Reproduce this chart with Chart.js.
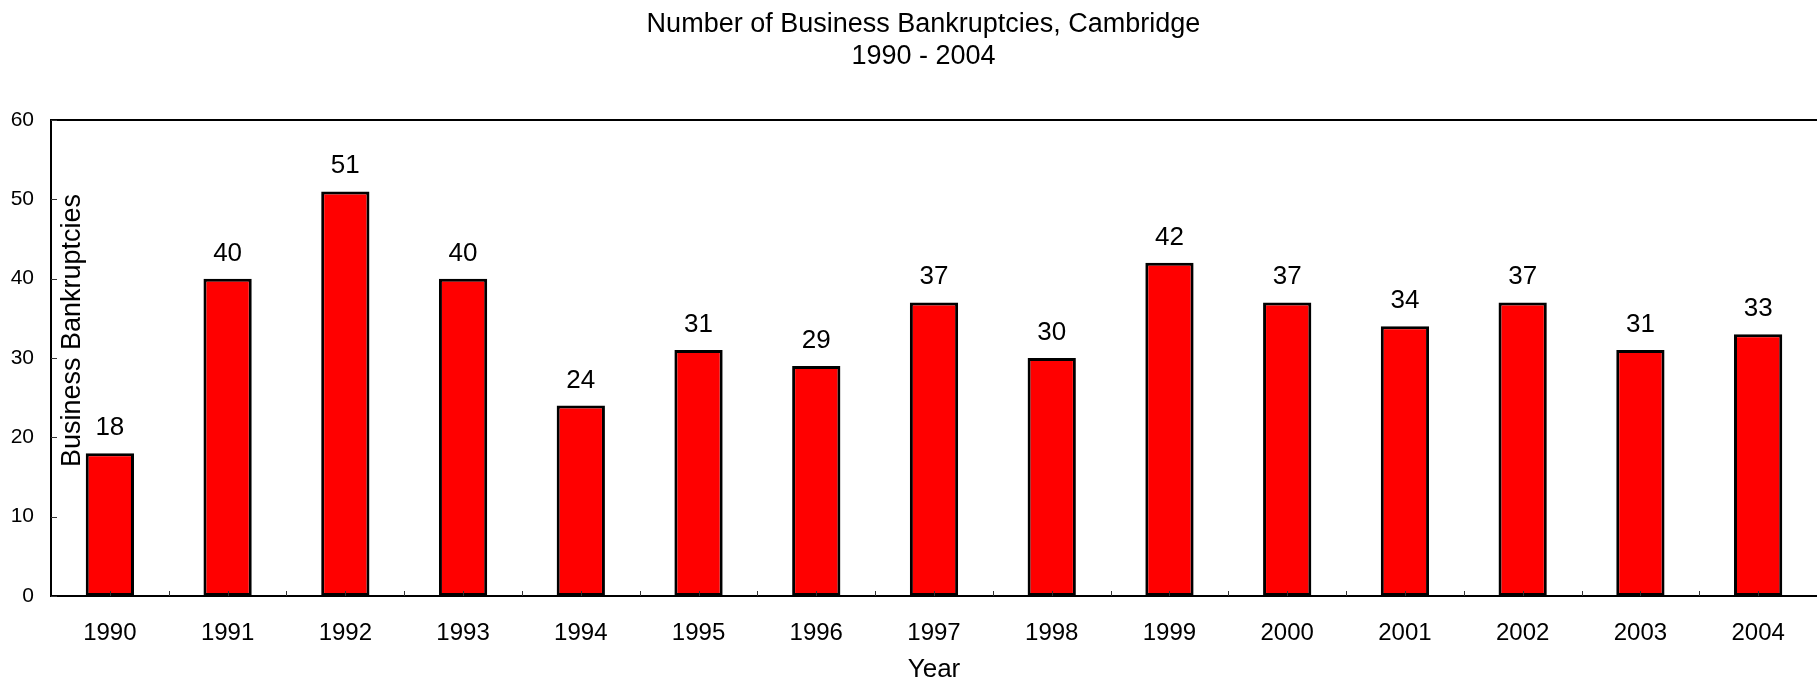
<!DOCTYPE html>
<html>
<head>
<meta charset="utf-8">
<script src="https://cdn.jsdelivr.net/npm/chart.js@4.4.1/dist/chart.umd.min.js"></script>
<style>
  html, body { margin: 0; padding: 0; background: #fff; }
  #wrap { width: 1817px; height: 683px; }
</style>
</head>
<body>
<div id="wrap"><canvas id="bankChart"></canvas></div>
<script>
let years = ["1990", "1991", "1992", "1993", "1994", "1995", "1996", "1997", "1998", "1999", "2000", "2001", "2002", "2003", "2004"];
let bankruptcies = [18, 40, 51, 40, 24, 31, 29, 37, 30, 42, 37, 34, 37, 31, 33];
let titleLines = ["Number of Business Bankruptcies, Cambridge", "1990 - 2004"];
let yTitle = "Business Bankruptcies";
let xTitle = "Year";

const FONT = "Arial, 'Liberation Sans', sans-serif";

// frame, inward tick marks, rotated y title and value labels
const extras = {
    id: "extras",
    afterLayout(chart) {
        // title in the original sits a bit right of the canvas centre
        if (chart.titleBlock) chart.titleBlock.left += 30;
    },
    afterDatasetsDraw(chart) {
        const ctx = chart.ctx;
        const area = chart.chartArea;
        const xs = chart.scales.x;
        const ys = chart.scales.y;
        ctx.save();

        // top border
        ctx.strokeStyle = "#000";
        ctx.lineWidth = 2;
        ctx.beginPath();
        ctx.moveTo(area.left, area.top);
        ctx.lineTo(area.right, area.top);
        ctx.stroke();

        // y ticks pointing in
        ctx.strokeStyle = "#333";
        ctx.lineWidth = 1;
        ys.ticks.forEach(t => {
            const y = Math.round(ys.getPixelForValue(t.value)) + 0.5;
            ctx.beginPath();
            ctx.moveTo(area.left, y);
            ctx.lineTo(area.left + 6, y);
            ctx.stroke();
        });

        // x ticks at centers and boundaries
        const half = (area.right - area.left) / years.length / 2;
        years.forEach((yr, i) => {
            const cx = xs.getPixelForValue(i);
            [cx, cx + half].forEach(px => {
                const x = Math.round(px) + 0.5;
                ctx.beginPath();
                ctx.moveTo(x, area.bottom);
                ctx.lineTo(x, area.bottom - 5);
                ctx.stroke();
            });
        });

        // value labels
        ctx.fillStyle = "#000";
        ctx.font = "26px " + FONT;
        ctx.textAlign = "center";
        ctx.textBaseline = "alphabetic";
        chart.getDatasetMeta(0).data.forEach((bar, i) => {
            ctx.fillText(String(bankruptcies[i]), bar.x, bar.y - 18);
        });

        // y axis title, sits inside the plot
        ctx.translate(72.5, 330.5);
        ctx.rotate(-Math.PI / 2);
        ctx.font = "27px " + FONT;
        ctx.textBaseline = "middle";
        ctx.fillText(yTitle, 0, 0);

        ctx.restore();
    }
};

let ctx = document.getElementById("bankChart").getContext("2d");

let chart = new Chart(ctx, {
    type: "bar",
    data: {
        labels: years,
        datasets: [{
            data: bankruptcies,
            backgroundColor: "#ff0000",
            borderColor: "#000000",
            borderWidth: 3,
            borderSkipped: false,
            categoryPercentage: 1,
            barPercentage: 0.41
        }]
    },
    options: {
        responsive: true,
        maintainAspectRatio: false,
        animation: false,
        layout: { padding: { top: 0, left: 0, right: 0, bottom: 0 } },
        plugins: {
            legend: { display: false },
            tooltip: { enabled: false },
            title: {
                display: true,
                text: titleLines,
                color: "#000",
                font: { family: FONT, size: 27, weight: "normal", lineHeight: 1.17 },
                padding: { top: 9, bottom: 47.8 }
            }
        },
        scales: {
            x: {
                offset: true,
                grid: { display: false, drawTicks: false },
                border: { display: true, color: "#000", width: 2 },
                ticks: {
                    color: "#000",
                    font: { family: FONT, size: 24, lineHeight: 1.2 },
                    padding: 23,
                    maxRotation: 0,
                    autoSkip: false
                },
                title: {
                    display: true,
                    text: xTitle,
                    color: "#000",
                    font: { family: FONT, size: 26, lineHeight: 1 },
                    padding: { top: 0, bottom: 0 }
                },
                afterFit(scale) { scale.height = 87; }
            },
            y: {
                min: 0,
                max: 60,
                grid: { display: false, drawTicks: false },
                border: { display: true, color: "#000", width: 2 },
                ticks: {
                    stepSize: 10,
                    color: "#000",
                    font: { family: FONT, size: 21 },
                    padding: 17
                },
                afterFit(scale) { scale.width = 51; }
            }
        }
    },
    plugins: [extras]
});
</script>
</body>
</html>
